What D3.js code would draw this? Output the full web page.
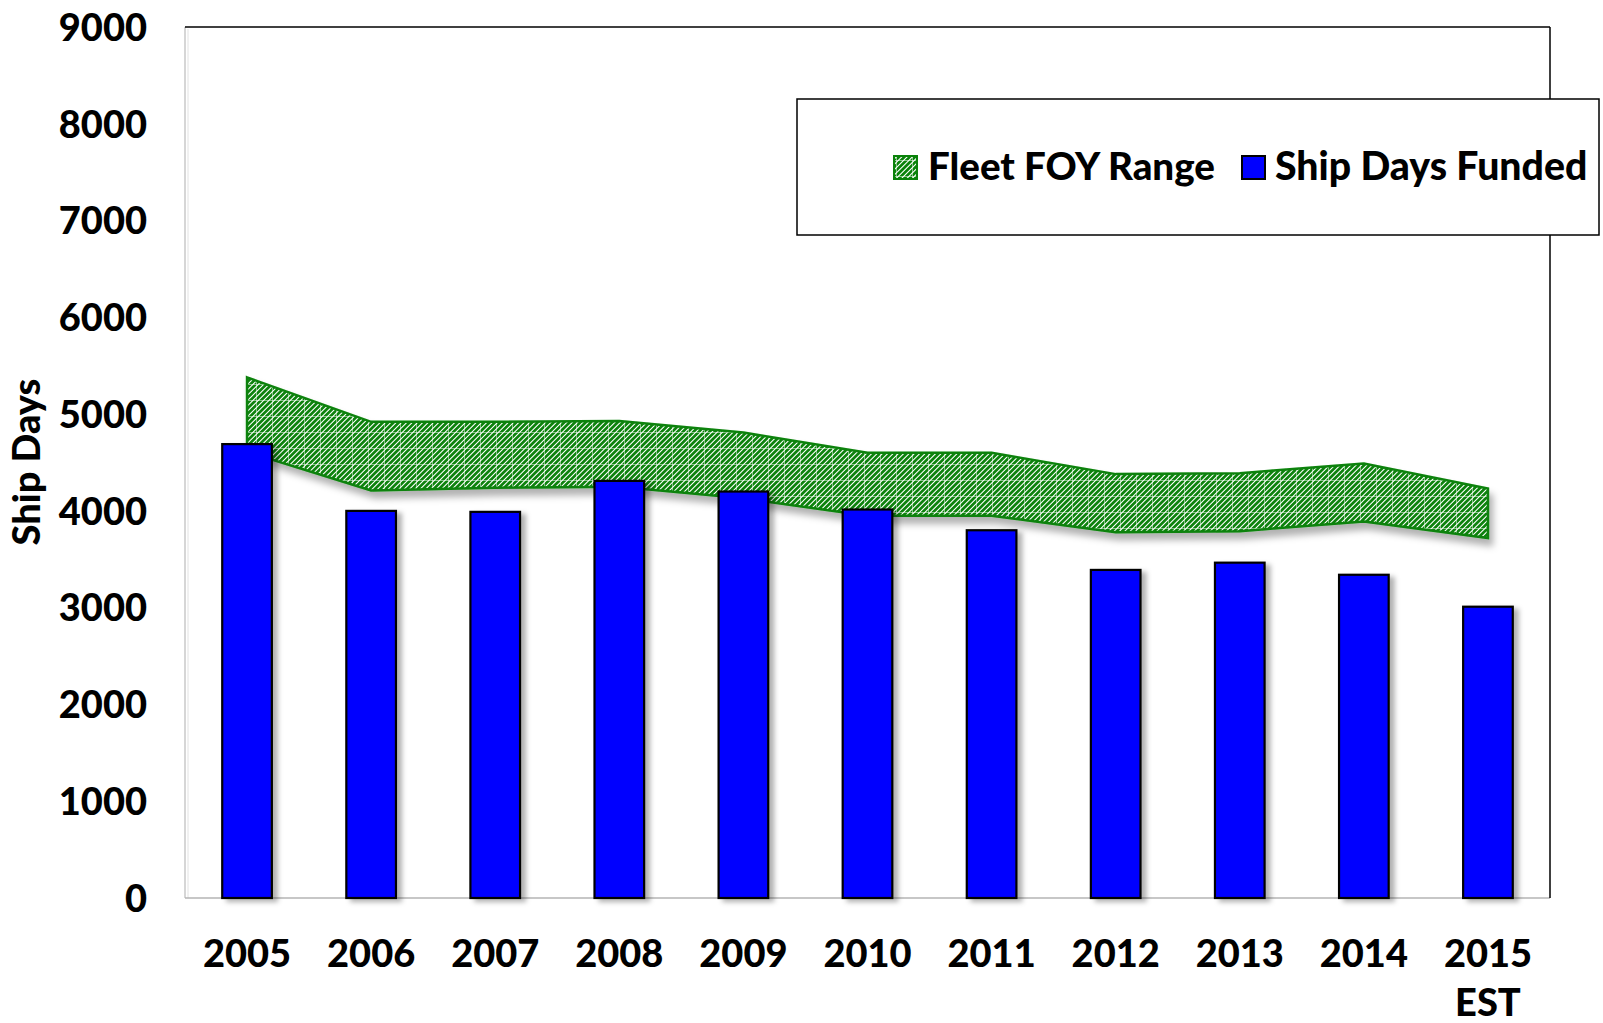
<!DOCTYPE html>
<html><head><meta charset="utf-8">
<script src="https://cdn.jsdelivr.net/npm/d3@7"></script>
<style>body{margin:0;background:#fff} svg{display:block}</style>
</head><body>
<script>
// ---- data ----
const years = ["2005","2006","2007","2008","2009","2010","2011","2012","2013","2014","2015"];
const xLabelLines = [["2005"],["2006"],["2007"],["2008"],["2009"],["2010"],["2011"],["2012"],["2013"],["2014"],["2015","EST"]];
const shipDaysFunded = [4690,4000,3990,4310,4200,4014,3800,3390,3465,3340,3010];
const foyLow  = [4610,4210,4240,4250,4130,3950,3950,3780,3790,3890,3720];
const foyHigh = [5380,4920,4920,4930,4810,4600,4600,4380,4390,4490,4230];
const yTicks = [0,1000,2000,3000,4000,5000,6000,7000,8000,9000];
const yTitle = "Ship Days";
const legendItems = ["Fleet FOY Range","Ship Days Funded"];

// ---- layout ----
const W = 1603, H = 1023;
const plot = {left:185, right:1550, top:27, bottom:898};
const FONT = "Lato, 'Open Sans', sans-serif";

const svg = d3.select("body").append("svg").attr("width",W).attr("height",H);
const defs = svg.append("defs");

// hatch pattern
const pat = defs.append("pattern").attr("id","hatch").attr("patternUnits","userSpaceOnUse")
  .attr("width",16).attr("height",16);
pat.append("rect").attr("width",16).attr("height",16).attr("fill","#fff");
pat.append("path")
  .attr("d","M-4,4 L4,-4 M-4,9.33 L9.33,-4 M-4,14.67 L14.67,-4 M-4,20 L20,-4 M1.33,20 L20,1.33 M6.67,20 L20,6.67 M12,20 L20,12")
  .attr("stroke","#0a820a").attr("stroke-width",2.7).attr("fill","none");
pat.append("path").attr("d","M0,0.5 H16 M0.5,0 V16").attr("stroke","#fff").attr("stroke-opacity",0.5).attr("stroke-width",1);

const shBar = defs.append("filter").attr("id","shBar").attr("x","-30%").attr("y","-10%").attr("width","160%").attr("height","130%");
shBar.append("feDropShadow").attr("dx",5).attr("dy",3).attr("stdDeviation",2.5).attr("flood-color","#000").attr("flood-opacity",0.3);
const shBand = defs.append("filter").attr("id","shBand").attr("x","-10%").attr("y","-20%").attr("width","120%").attr("height","160%");
shBand.append("feDropShadow").attr("dx",4).attr("dy",7).attr("stdDeviation",3.5).attr("flood-color","#000").attr("flood-opacity",0.3);

// scales
const x = d3.scaleBand().domain(years).range([plot.left, plot.right]).paddingInner(0.6).paddingOuter(0.3);
const y = d3.scaleLinear().domain([0,9000]).range([plot.bottom, plot.top]);
const cx = d => x(d) + x.bandwidth()/2;

// plot frame
svg.append("line").attr("x1",plot.left).attr("x2",plot.left).attr("y1",plot.top).attr("y2",plot.bottom)
  .attr("stroke","#c8c8c8").attr("stroke-width",1.5);
svg.append("line").attr("x1",plot.left+3).attr("x2",plot.left+3).attr("y1",plot.top+2).attr("y2",plot.bottom)
  .attr("stroke","#e2e2e2").attr("stroke-width",1);
svg.append("line").attr("x1",plot.left).attr("x2",plot.right).attr("y1",plot.bottom).attr("y2",plot.bottom)
  .attr("stroke","#b5b5b5").attr("stroke-width",1.5);
svg.append("line").attr("x1",plot.left).attr("x2",plot.right).attr("y1",plot.top).attr("y2",plot.top)
  .attr("stroke","#000").attr("stroke-width",1.5);
svg.append("line").attr("x1",plot.right).attr("x2",plot.right).attr("y1",plot.top).attr("y2",plot.bottom)
  .attr("stroke","#000").attr("stroke-width",1.5);

// band
const bandData = years.map((yr,i)=>({yr, lo:foyLow[i], hi:foyHigh[i]}));
const area = d3.area().x(d=>cx(d.yr)).y0(d=>y(d.lo)).y1(d=>y(d.hi));
svg.append("path").datum(bandData).attr("d",area)
  .attr("fill","url(#hatch)").attr("stroke","#0a820a").attr("stroke-width",2.5)
  .attr("stroke-linejoin","miter").attr("filter","url(#shBand)");

// bars
svg.append("g").selectAll("rect").data(years).join("rect")
  .attr("x",d=>x(d)).attr("width",x.bandwidth())
  .attr("y",(d,i)=>y(shipDaysFunded[i])).attr("height",(d,i)=>y(0)-y(shipDaysFunded[i]))
  .attr("fill","#0000ff").attr("stroke","#000").attr("stroke-width",2.2)
  .attr("filter","url(#shBar)");

// y axis
const yAxis = d3.axisLeft(y).tickValues(yTicks).tickSize(0).tickPadding(0).tickFormat(d3.format("d"));
const gy = svg.append("g").attr("transform",`translate(${plot.left-38},0)`).call(yAxis);
gy.select(".domain").remove();
gy.selectAll("text").attr("font-family",FONT).attr("font-weight",900).attr("font-size",38)
  .attr("fill","#000").attr("dy","0.35em");

// x axis
const xAxis = d3.axisBottom(x).tickSize(0).tickFormat("");
const gx = svg.append("g").attr("transform",`translate(0,${plot.bottom})`).call(xAxis);
gx.select(".domain").remove();
gx.selectAll(".tick").each(function(d,i){
  const t = d3.select(this).append("text").attr("text-anchor","middle")
    .attr("font-family",FONT).attr("font-weight",900).attr("font-size",38).attr("fill","#000");
  xLabelLines[i].forEach((ln,k)=>{
    t.append("tspan").attr("x",0).attr("y",69 + k*49).text(ln);
  });
});

// y title
svg.append("text").attr("transform","translate(40,462) rotate(-90)")
  .attr("text-anchor","middle").attr("font-family",FONT).attr("font-weight",900)
  .attr("font-size",38).attr("fill","#000").text(yTitle);

// legend
const lg = svg.append("g");
lg.append("rect").attr("x",797).attr("y",99).attr("width",802).attr("height",136)
  .attr("fill","#fff").attr("stroke","#000").attr("stroke-width",1.5);
lg.append("rect").attr("x",894).attr("y",156).attr("width",23).attr("height",23)
  .attr("fill","url(#hatch)").attr("stroke","#0a820a").attr("stroke-width",2);
lg.append("text").attr("x",928).attr("y",180).attr("font-family",FONT).attr("font-weight",900)
  .attr("font-size",38.5).attr("fill","#000").text(legendItems[0]);
lg.append("rect").attr("x",1242).attr("y",156).attr("width",23).attr("height",23)
  .attr("fill","#0000ff").attr("stroke","#000").attr("stroke-width",2);
lg.append("text").attr("x",1275).attr("y",180).attr("font-family",FONT).attr("font-weight",900)
  .attr("font-size",39.2).attr("fill","#000").text(legendItems[1]);
</script>
</body></html>
